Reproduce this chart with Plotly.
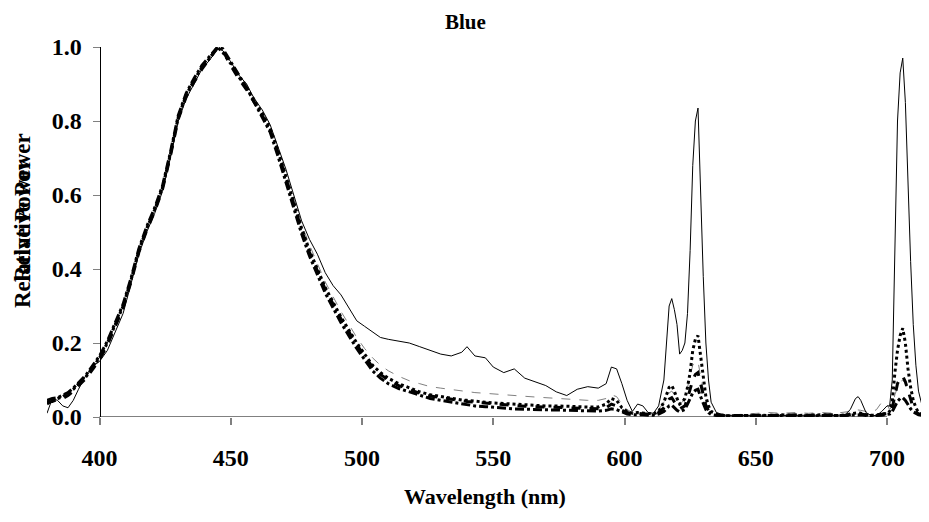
import plotly.graph_objects as go

wavelength = [
    380, 382, 384, 386, 388, 390, 392, 395, 398, 400,
    403, 406, 409, 412, 415, 418, 421, 424, 427, 430,
    433, 436, 439, 442, 445, 447, 450, 453, 456, 459,
    462, 465, 468, 471, 474, 477, 480, 483, 486, 489,
    492, 495, 498, 501, 504, 507, 510, 514, 518, 522,
    526, 530, 534, 538, 540, 543, 547, 550, 554, 558,
    562, 566, 570, 574, 578, 582, 586, 590, 593, 595,
    597, 599, 601, 603, 605, 607, 609, 611, 613, 615,
    616, 617, 618, 619, 620, 621, 622, 623, 624, 625,
    626, 627, 628, 629, 630, 631, 632, 633, 635, 638,
    642, 646, 650, 655, 660, 665, 670, 675, 680, 684,
    686, 688, 689, 690, 692, 694, 696, 698, 700, 701,
    702, 703, 704, 705, 706, 707, 708, 709, 710, 711,
    712, 714, 716,
]

solid_series = [
    0.01, 0.05, 0.045, 0.03, 0.025, 0.045, 0.075, 0.115, 0.14, 0.15,
    0.18, 0.23, 0.28, 0.36, 0.44, 0.50, 0.55, 0.61, 0.70, 0.80,
    0.86, 0.90, 0.94, 0.965, 0.995, 0.99, 0.96, 0.925, 0.90, 0.86,
    0.83, 0.79, 0.73, 0.67, 0.60, 0.53, 0.48, 0.44, 0.39, 0.355,
    0.33, 0.295, 0.26, 0.245, 0.23, 0.215, 0.21, 0.205, 0.20, 0.19,
    0.18, 0.17, 0.165, 0.175, 0.19, 0.165, 0.16, 0.135, 0.12, 0.13,
    0.105, 0.095, 0.085, 0.068, 0.058, 0.075, 0.082, 0.078, 0.09, 0.135,
    0.13, 0.09, 0.045, 0.015, 0.035, 0.03, 0.012, 0.01, 0.03, 0.10,
    0.2, 0.3, 0.32, 0.29, 0.25, 0.17, 0.18, 0.2, 0.28, 0.45,
    0.68, 0.80, 0.835, 0.6, 0.38, 0.2, 0.1, 0.04, 0.012, 0.005,
    0.003, 0.004, 0.003, 0.002, 0.004, 0.003, 0.002, 0.003, 0.004, 0.006,
    0.02, 0.05, 0.055, 0.045, 0.012, 0.004, 0.004, 0.015, 0.03, 0.03,
    0.1, 0.5, 0.8, 0.93, 0.97, 0.85, 0.6, 0.42, 0.25, 0.14,
    0.07, 0.012, 0.006,
]

dotted_series = [
    0.035, 0.045, 0.05, 0.055, 0.065, 0.075, 0.09, 0.11, 0.14, 0.16,
    0.20, 0.25, 0.30, 0.37, 0.45, 0.51, 0.56, 0.62, 0.71, 0.81,
    0.87, 0.91, 0.945, 0.97, 1.0, 0.985, 0.955, 0.92, 0.89, 0.855,
    0.82, 0.78, 0.72, 0.65, 0.58, 0.51, 0.45, 0.40, 0.35, 0.31,
    0.27, 0.235, 0.20, 0.17, 0.14, 0.12, 0.105, 0.09, 0.078, 0.068,
    0.06, 0.055, 0.05, 0.046, 0.045, 0.042, 0.04, 0.038, 0.036, 0.035,
    0.033, 0.032, 0.03, 0.03, 0.028, 0.028, 0.027, 0.027, 0.035, 0.05,
    0.045, 0.025, 0.015, 0.01, 0.012, 0.01, 0.008, 0.008, 0.015, 0.04,
    0.06, 0.08, 0.085, 0.07, 0.05, 0.035, 0.04, 0.05, 0.08, 0.12,
    0.18, 0.21, 0.22, 0.16, 0.1, 0.055, 0.03, 0.015, 0.008, 0.004,
    0.003, 0.004, 0.005, 0.004, 0.006, 0.004, 0.005, 0.006, 0.004, 0.005,
    0.008, 0.012, 0.012, 0.01, 0.006, 0.005, 0.005, 0.008, 0.01, 0.015,
    0.04, 0.12, 0.18, 0.22, 0.24, 0.2, 0.13, 0.08, 0.045, 0.025,
    0.012, 0.005, 0.008,
]

dashed_series = [
    0.04, 0.042, 0.048, 0.05, 0.058, 0.07, 0.085, 0.105, 0.135, 0.155,
    0.195, 0.245, 0.295, 0.365, 0.445, 0.505, 0.555, 0.615, 0.705, 0.805,
    0.865, 0.905, 0.94, 0.97, 0.998, 0.99, 0.95, 0.915, 0.885, 0.85,
    0.815, 0.775, 0.715, 0.645, 0.575, 0.505, 0.445, 0.395, 0.345, 0.305,
    0.265, 0.23, 0.195, 0.165, 0.135, 0.115, 0.1, 0.085, 0.074, 0.064,
    0.057, 0.052, 0.048, 0.044, 0.042, 0.04, 0.038, 0.035, 0.033, 0.031,
    0.029, 0.028, 0.027, 0.026, 0.024, 0.024, 0.023, 0.022, 0.025, 0.035,
    0.03, 0.018, 0.012, 0.008, 0.01, 0.008, 0.007, 0.007, 0.012, 0.025,
    0.035, 0.048, 0.052, 0.04, 0.03, 0.022, 0.025, 0.03, 0.05, 0.075,
    0.1, 0.115, 0.12, 0.09, 0.055, 0.03, 0.018, 0.01, 0.006, 0.004,
    0.004, 0.005, 0.004, 0.005, 0.004, 0.006, 0.004, 0.005, 0.006, 0.004,
    0.006, 0.008, 0.01, 0.008, 0.005, 0.004, 0.006, 0.007, 0.008, 0.01,
    0.025, 0.06, 0.09, 0.105, 0.11, 0.095, 0.07, 0.045, 0.025, 0.015,
    0.008, 0.006, 0.005,
]

dashdot_series = [
    0.045, 0.05, 0.052, 0.06, 0.066, 0.078, 0.093, 0.115, 0.145, 0.165,
    0.205, 0.255, 0.305, 0.375, 0.455, 0.515, 0.565, 0.625, 0.715, 0.815,
    0.875, 0.915, 0.95, 0.975, 1.0, 0.995, 0.96, 0.925, 0.89, 0.85,
    0.81, 0.77, 0.705, 0.635, 0.565, 0.495, 0.435, 0.385, 0.335, 0.295,
    0.255, 0.22, 0.185, 0.155, 0.125, 0.105, 0.09, 0.077, 0.068, 0.058,
    0.05, 0.045, 0.04, 0.035, 0.033, 0.03, 0.028, 0.026, 0.024, 0.022,
    0.021, 0.02, 0.019, 0.018, 0.017, 0.017, 0.016, 0.016, 0.018, 0.022,
    0.02, 0.013, 0.008, 0.006, 0.007, 0.006, 0.005, 0.005, 0.008, 0.015,
    0.022, 0.03, 0.032, 0.025, 0.018, 0.014, 0.016, 0.02, 0.035, 0.05,
    0.065, 0.072, 0.075, 0.055, 0.035, 0.02, 0.012, 0.007, 0.004, 0.003,
    0.003, 0.004, 0.003, 0.004, 0.003, 0.004, 0.003, 0.004, 0.003, 0.004,
    0.005, 0.006, 0.007, 0.006, 0.004, 0.003, 0.004, 0.005, 0.006, 0.008,
    0.015, 0.03, 0.042, 0.05, 0.052, 0.045, 0.033, 0.022, 0.014, 0.009,
    0.006, 0.004, 0.004,
]

gray_series = [
    0.04, 0.048, 0.05, 0.054, 0.062, 0.072, 0.088, 0.108, 0.14, 0.158,
    0.198, 0.248, 0.298, 0.368, 0.448, 0.508, 0.558, 0.618, 0.708, 0.808,
    0.868, 0.908, 0.943, 0.972, 0.999, 0.992, 0.962, 0.93, 0.9, 0.862,
    0.828, 0.785, 0.725, 0.66, 0.59, 0.52, 0.465, 0.415, 0.365, 0.325,
    0.285, 0.25, 0.215, 0.185, 0.16, 0.14, 0.125, 0.11, 0.098, 0.09,
    0.082, 0.078, 0.074, 0.07, 0.068, 0.066, 0.064, 0.062, 0.06, 0.058,
    0.056, 0.054, 0.052, 0.05, 0.048, 0.046, 0.045, 0.045, 0.05, 0.06,
    0.055, 0.035, 0.02, 0.012, 0.014, 0.012, 0.01, 0.01, 0.02, 0.04,
    0.055, 0.065, 0.07, 0.06, 0.045, 0.035, 0.04, 0.05, 0.08, 0.11,
    0.14, 0.15, 0.15, 0.11, 0.07, 0.04, 0.02, 0.01, 0.006, 0.005,
    0.006, 0.008, 0.01, 0.012, 0.01, 0.012, 0.01, 0.012, 0.01, 0.012,
    0.015, 0.02, 0.02, 0.018, 0.015, 0.012, 0.02, 0.04, 0.035, 0.02,
    0.03, 0.06, 0.08, 0.095, 0.1, 0.09, 0.07, 0.05, 0.03, 0.02,
    0.012, 0.008, 0.006,
]

x_tick_values = [400, 450, 500, 550, 600, 650, 700]
y_tick_values = [0.0, 0.2, 0.4, 0.6, 0.8, 1.0]

FONT = "Liberation Serif"
X_MIN, X_MAX = 380, 716

fig = go.Figure()
fig.add_trace(go.Scatter(x=wavelength, y=gray_series, mode="lines",
                         line=dict(color="#808080", width=1, dash="dash")))
fig.add_trace(go.Scatter(x=wavelength, y=dashdot_series, mode="lines",
                         line=dict(color="black", width=3, dash="dashdot")))
fig.add_trace(go.Scatter(x=wavelength, y=dashed_series, mode="lines",
                         line=dict(color="black", width=3, dash="dash")))
fig.add_trace(go.Scatter(x=wavelength, y=dotted_series, mode="lines",
                         line=dict(color="black", width=3, dash="dot")))
fig.add_trace(go.Scatter(x=wavelength, y=solid_series, mode="lines",
                         line=dict(color="black", width=1)))

# horizontal axis baseline spanning only 400-700
fig.add_shape(type="line", xref="x", yref="y", x0=x_tick_values[0], x1=x_tick_values[-1],
              y0=0, y1=0, line=dict(color="#808080", width=2), layer="below")

tickfont = dict(family=FONT, size=24, color="black", weight="bold")

# the page body has an 8px margin, so the figure is 8px smaller than the window
fig.update_layout(
    width=921, height=514,
    margin=dict(l=39, r=0, t=39, b=105, autoexpand=False),
    paper_bgcolor="white", plot_bgcolor="white",
    showlegend=False,
    xaxis=dict(range=[X_MIN, X_MAX], tickvals=x_tick_values, automargin=False,
               ticks="outside", ticklen=7, tickwidth=2, tickcolor="#808080",
               showline=False, showgrid=False, zeroline=False,
               tickfont=tickfont, ticklabelstandoff=12),
    yaxis=dict(range=[0, 1.0], tickvals=y_tick_values, tickformat=".1f", automargin=False,
               anchor="free", position=(x_tick_values[0] - X_MIN) / (X_MAX - X_MIN),
               ticks="outside", ticklen=7, tickwidth=1, tickcolor="#808080",
               showline=True, linecolor="black", linewidth=1,
               showgrid=False, zeroline=False, tickfont=tickfont, ticklabelstandoff=6),
)

fig.add_annotation(text="Blue", xref="paper", yref="paper", x=0.474, y=1.068,
                   xanchor="center", yanchor="middle", showarrow=False,
                   font=dict(family=FONT, size=21, color="black", weight="bold"))
fig.add_annotation(text="Wavelength (nm)", xref="paper", yref="paper", x=0.497, y=-0.216,
                   xanchor="center", yanchor="middle", showarrow=False,
                   font=dict(family=FONT, size=22, color="black", weight="bold"))
for yy in (0.565, 0.495):
    fig.add_annotation(text="Relative Power", xref="paper", yref="paper", x=-0.027, y=yy,
                       xanchor="center", yanchor="middle", textangle=-90, showarrow=False,
                       font=dict(family=FONT, size=23, color="black", weight="bold"))

fig.write_html("out.html")
